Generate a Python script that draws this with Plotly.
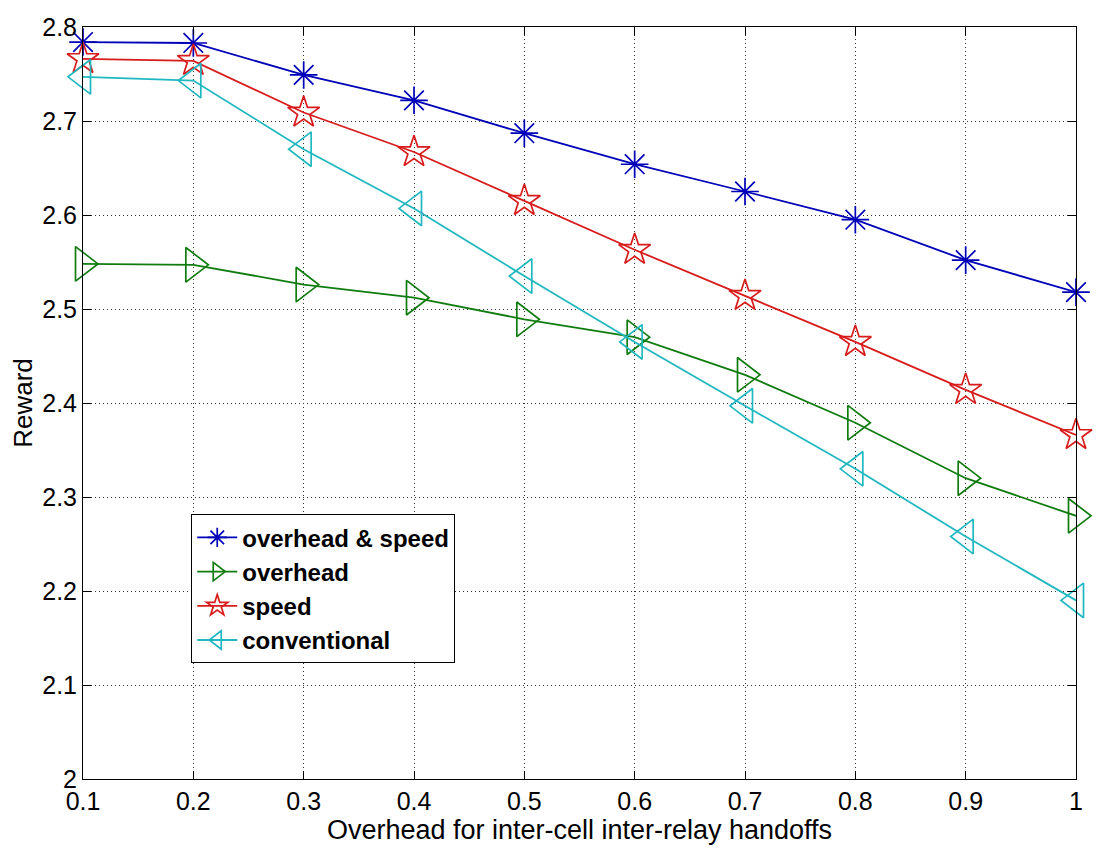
import plotly.graph_objects as go

overhead = [0.1, 0.2, 0.3, 0.4, 0.5, 0.6, 0.7, 0.8, 0.9, 1.0]

overhead_speed = [2.784, 2.783, 2.749, 2.722, 2.687, 2.654, 2.625, 2.595, 2.552, 2.518]
overhead_only = [2.548, 2.547, 2.526, 2.512, 2.489, 2.470, 2.430, 2.379, 2.320, 2.280]
speed_only = [2.766, 2.764, 2.709, 2.667, 2.615, 2.563, 2.514, 2.465, 2.414, 2.366]
conventional = [2.747, 2.743, 2.670, 2.607, 2.535, 2.465, 2.397, 2.330, 2.258, 2.190]

x_ticks = [0.1, 0.2, 0.3, 0.4, 0.5, 0.6, 0.7, 0.8, 0.9, 1]
x_tick_text = ["0.1", "0.2", "0.3", "0.4", "0.5", "0.6", "0.7", "0.8", "0.9", "1"]
y_ticks = [2, 2.1, 2.2, 2.3, 2.4, 2.5, 2.6, 2.7, 2.8]
y_tick_text = ["2", "2.1", "2.2", "2.3", "2.4", "2.5", "2.6", "2.7", "2.8"]

series = [
    ("overhead & speed", overhead_speed, "#0000b8", "asterisk-open", 23),
    ("overhead", overhead_only, "#107c10", "triangle-right-open", 30),
    ("speed", speed_only, "#d81c1c", "star-open", 24),
    ("conventional", conventional, "#20b8c0", "triangle-left-open", 30),
]

fig = go.Figure()
for name, vals, col, sym, sz in series:
    fig.add_trace(go.Scatter(
        x=overhead, y=vals, name=name, mode="lines+markers", cliponaxis=False,
        line=dict(color=col, width=1.8),
        marker=dict(symbol=sym, size=sz, color=col, line=dict(color=col, width=1.7))))

axis_common = dict(
    showline=True, linecolor="black", linewidth=1, mirror="allticks",
    ticks="inside", ticklen=8, tickcolor="black",
    showgrid=True, gridcolor="#333333", griddash="1px,3px", gridwidth=1,
    zeroline=False, tickfont=dict(family="Liberation Sans", size=25, color="black"),
)

fig.update_xaxes(range=[0.1, 1], tickvals=x_ticks, ticktext=x_tick_text,
                 title=dict(text="Overhead for inter-cell inter-relay handoffs",
                            font=dict(family="Liberation Sans", size=27, color="black"),
                            standoff=0),
                 ticklabelstandoff=0,
                 **axis_common)
fig.update_yaxes(range=[2, 2.8], tickvals=y_ticks, ticktext=y_tick_text,
                 title=dict(text="Reward",
                            font=dict(family="Liberation Sans", size=26, color="black"),
                            standoff=2),
                 ticklabelstandoff=0,
                 **axis_common)

# page body adds 8px around the figure, so trim that off the size and margins
fig.update_layout(
    width=1107, height=841,
    margin=dict(l=75, r=39, t=19, b=70, autoexpand=False),
    paper_bgcolor="white", plot_bgcolor="white",
    legend=dict(x=0.109, y=0.352, xanchor="left", yanchor="top",
                bgcolor="white", bordercolor="black", borderwidth=1,
                font=dict(family="Liberation Sans", size=24, color="black", weight="bold"),
                tracegroupgap=0, itemwidth=40),
)

fig.write_html("out.html")
